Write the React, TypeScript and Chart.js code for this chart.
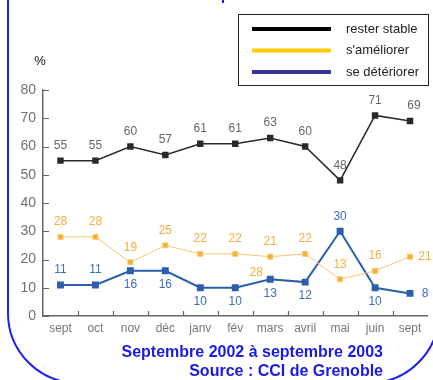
import React, { useEffect, useRef } from "react";
import { Chart, registerables } from "chart.js";

Chart.register(...registerables);

const months = ["sept", "oct", "nov", "déc", "janv", "fév", "mars", "avril", "mai", "juin", "sept"];
const stable = [55, 55, 60, 57, 61, 61, 63, 60, 48, 71, 69];
const ameliorer = [28, 28, 19, 25, 22, 22, 21, 22, 13, 16, 21];
const deteriorer = [11, 11, 16, 16, 10, 10, 13, 12, 30, 10, 8];
const yTicks = [0, 10, 20, 30, 40, 50, 60, 70, 80];
const seriesNames = ["rester stable", "s'améliorer", "se détériorer"];

// label placement: a = above, b = below, r = right
const stablePos = ["a", "a", "a", "a", "a", "a", "a", "a", "a", "a", "a"];
const ameliorerPos = ["a", "a", "a", "a", "a", "a", "a", "a", "a", "a", "r"];
const deteriorerPos = ["a", "a", "b", "b", "b", "b", "b", "b", "a", "b", "r"];

const FONT = "'Liberation Sans', Arial, sans-serif";

const decor = {
  id: "decor",
  afterDatasetsDraw(chart: any) {
    const ctx = chart.ctx;
    const xs = chart.scales.x;
    const ys = chart.scales.y;
    ctx.save();

    // inner ticks
    ctx.strokeStyle = "#666";
    ctx.lineWidth = 1.2;
    ctx.beginPath();
    yTicks.forEach((v) => {
      const y = Math.round(ys.getPixelForValue(v)) + 0.5;
      ctx.moveTo(xs.left, y);
      ctx.lineTo(xs.left + 6, y);
    });
    for (let i = 0; i < months.length - 1; i++) {
      const x = Math.round((xs.getPixelForValue(i) + xs.getPixelForValue(i + 1)) / 2) + 0.5;
      ctx.moveTo(x, ys.bottom);
      ctx.lineTo(x, ys.bottom - 5);
    }
    ctx.stroke();

    const sets = [
      { data: stable, pos: stablePos, color: "#666666" },
      { data: ameliorer, pos: ameliorerPos, color: "#f5ad3c" },
      { data: deteriorer, pos: deteriorerPos, color: "#3b6cbd" },
    ];
    ctx.font = `12px ${FONT}`;
    ctx.textAlign = "center";
    ctx.textBaseline = "middle";
    sets.forEach((s) => {
      ctx.fillStyle = s.color;
      s.data.forEach((v, i) => {
        const x = xs.getPixelForValue(i);
        const y = ys.getPixelForValue(v);
        const p = s.pos[i];
        if (p === "a") ctx.fillText(String(v), x + (i === 10 ? 4 : 0), y - 15);
        else if (p === "b") ctx.fillText(String(v), x, y + 14);
        else ctx.fillText(String(v), x + 15, y);
      });
    });
    // stray label in the original, near mars
    ctx.fillStyle = "#f5ad3c";
    ctx.fillText("28", xs.getPixelForValue(6) - 14, ys.getPixelForValue(15.5));

    // % label
    ctx.fillStyle = "#111";
    ctx.font = `13px ${FONT}`;
    ctx.fillText("%", 40, 61);

    // legend
    ctx.fillStyle = "#fff";
    ctx.fillRect(238, 14, 191, 72);
    ctx.strokeStyle = "#222";
    ctx.lineWidth = 1;
    ctx.strokeRect(238.5, 14.5, 190, 71);
    const legColors = ["#000000", "#ffcc00", "#333399"];
    ctx.textAlign = "left";
    ctx.font = `13px ${FONT}`;
    seriesNames.forEach((n, i) => {
      const y = 29 + i * 21.5;
      ctx.strokeStyle = legColors[i];
      ctx.lineWidth = 4;
      ctx.beginPath();
      ctx.moveTo(252, y);
      ctx.lineTo(331, y);
      ctx.stroke();
      ctx.fillStyle = "#222";
      ctx.fillText(n, 346, y);
    });

    // footer
    ctx.fillStyle = "#1a1ae6";
    ctx.font = `bold 16px ${FONT}`;
    ctx.textAlign = "right";
    ctx.fillText("Septembre 2002 à septembre 2003", 383, 353);
    ctx.fillText("Source : CCI de Grenoble", 383, 372);

    // frame
    ctx.strokeStyle = "#2020f0";
    ctx.lineWidth = 2;
    ctx.beginPath();
    ctx.moveTo(8, 0);
    ctx.lineTo(8, 313);
    ctx.arc(78, 313, 70, Math.PI, Math.PI / 2, true);
    ctx.stroke();
    ctx.beginPath();
    ctx.arc(369, 313, 70, Math.PI / 2, 0, true);
    ctx.stroke();
    ctx.fillStyle = "#2020f0";
    ctx.fillRect(222, 0, 2, 3);
    ctx.restore();
  },
};

export default function App() {
  const ref = useRef<HTMLCanvasElement | null>(null);
  useEffect(() => {
    if (!ref.current) return;
    const pt = { pointStyle: "rect", pointRadius: 3.5, pointHoverRadius: 3.5, tension: 0 };
    const chart = new Chart(ref.current, {
      type: "line",
      data: {
        labels: months,
        datasets: [
          { label: seriesNames[0], data: stable, borderColor: "#2a2a2a", backgroundColor: "#2a2a2a", borderWidth: 1.5, ...pt },
          { label: seriesNames[1], data: ameliorer, borderColor: "#fbc56e", backgroundColor: "#f8b032", borderWidth: 1, ...pt },
          { label: seriesNames[2], data: deteriorer, borderColor: "#2c5fab", backgroundColor: "#2c5fab", borderWidth: 2, ...pt },
        ] as any,
      },
      options: {
        responsive: false,
        animation: false,
        layout: { padding: { top: 90, left: 0, right: 2, bottom: 40 } },
        plugins: { legend: { display: false }, tooltip: { enabled: false } },
        scales: {
          x: {
            offset: true,
            grid: { offset: true, drawOnChartArea: false, drawTicks: false },
            border: { color: "#666", width: 1.5 },
            ticks: { color: "#777", font: { size: 12, family: FONT }, padding: 5, maxRotation: 0, autoSkip: false },
            afterFit: (s: any) => { s.height = 24; },
          },
          y: {
            min: 0,
            max: 80,
            afterBuildTicks: (s: any) => { s.ticks = yTicks.map((v) => ({ value: v })); },
            grid: { drawOnChartArea: false, drawTicks: false },
            border: { color: "#666", width: 1.5 },
            ticks: { color: "#707070", font: { size: 14, family: FONT }, padding: 7 },
            afterFit: (s: any) => { s.width = 43; },
          },
        },
      },
      plugins: [decor],
    });
    return () => chart.destroy();
  }, []);
  return (
    <div style={{ position: "fixed", left: 0, top: 0, width: 433, height: 380, background: "#fff" }}>
      <canvas ref={ref} width={433} height={380} style={{ display: "block" }} />
    </div>
  );
}
